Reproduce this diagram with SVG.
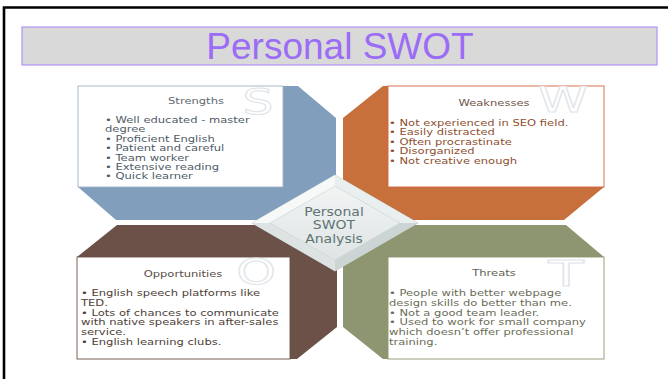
<svg xmlns="http://www.w3.org/2000/svg" width="668" height="379" viewBox="0 0 668 379">
<style>
.t{font-family:"DejaVu Sans","Verdana",sans-serif;font-size:8.5px}
.h{text-anchor:middle}
.wm{font-family:"DejaVu Sans",sans-serif;font-size:36px;fill:#ffffff;stroke:#e0e4e8;stroke-width:1;text-anchor:middle}
.box{fill:#ffffff;stroke-width:0.9}
.dt{font-family:"DejaVu Sans","Verdana",sans-serif;font-size:11.5px;fill:#5e7474;text-anchor:middle}
</style>
<defs>
<clipPath id="cS"><rect x="78" y="86" width="205" height="101"/></clipPath>
<clipPath id="cW"><rect x="388" y="86" width="216" height="101"/></clipPath>
<clipPath id="cO"><rect x="77" y="257" width="213" height="102"/></clipPath>
<clipPath id="cT"><rect x="388" y="257" width="216" height="102"/></clipPath>
<linearGradient id="dg" x1="0" y1="0" x2="0" y2="1">
<stop offset="0" stop-color="#f2f4f4"/>
<stop offset="1" stop-color="#dfe4e4"/>
</linearGradient>
</defs>
<rect width="668" height="379" fill="#ffffff"/>
<path d="M4,385 V7.5 H672" fill="none" stroke="#000" stroke-width="2.6"/>
<g id="title">
<rect x="22" y="27" width="635" height="38" fill="#d9d9d9" stroke="#b193f7" stroke-width="1.2"/>
<text x="340" y="59" font-family="Liberation Sans, Arial, sans-serif" font-size="37" fill="#9b6cf5" text-anchor="middle">Personal SWOT</text>
</g>
<g id="strengths">
<polygon points="78,86 298,86 336,118 336,220 116,220 78,187" fill="#819fbd"/>
<rect class="box" x="78" y="86" width="205" height="101" stroke="#9fb3c7"/>
<g clip-path="url(#cS)"><text class="wm" transform="translate(258,114) scale(1.35,1)">S</text></g>
<g transform="translate(196,0) scale(1.36,1)"><text class="t h" y="104" fill="#5f6870">Strengths</text></g>
<g transform="translate(105,0) scale(1.36,1)" class="t" fill="#4f5b66">
<text y="123">• Well educated - master</text>
<text y="132.4">degree</text>
<text y="141.8">• Proficient English</text>
<text y="151.2">• Patient and careful</text>
<text y="160.6">• Team worker</text>
<text y="170">• Extensive reading</text>
<text y="179.4">• Quick learner</text>
</g>
</g>
<g id="weaknesses">
<polygon points="343,118 383,86 604,86 604,187 564,220 343,220" fill="#c8703c"/>
<rect class="box" x="388" y="86" width="216" height="101" stroke="#d2653f"/>
<g clip-path="url(#cW)"><text class="wm" transform="translate(563,112) scale(1.4,1)">W</text></g>
<g transform="translate(494,0) scale(1.36,1)"><text class="t h" y="106" fill="#6e5548">Weaknesses</text></g>
<g transform="translate(389,0) scale(1.36,1)" class="t" fill="#8e4f2f">
<text y="126">• Not experienced in SEO field.</text>
<text y="135.5">• Easily distracted</text>
<text y="145">• Often procrastinate</text>
<text y="154.5">• Disorganized</text>
<text y="164">• Not creative enough</text>
</g>
</g>
<g id="opportunities">
<polygon points="77,257 117,225 337,225 337,327 297,359 77,359" fill="#6b5147"/>
<rect class="box" x="77" y="257" width="213" height="102" stroke="#6b5147"/>
<g clip-path="url(#cO)"><text class="wm" transform="translate(256,284) scale(1.4,1)">O</text></g>
<g transform="translate(183,0) scale(1.36,1)"><text class="t h" y="277" fill="#5a4c45">Opportunities</text></g>
<g transform="translate(81,0) scale(1.36,1)" class="t" fill="#4d3e37">
<text y="296">• English speech platforms like</text>
<text y="305.8">TED.</text>
<text y="315.6">• Lots of chances to communicate</text>
<text y="325.4">with native speakers in after-sales</text>
<text y="335.2">service.</text>
<text y="345">• English learning clubs.</text>
</g>
</g>
<g id="threats">
<polygon points="343,225 566,225 604,257 604,359 383,359 343,327" fill="#8d9670"/>
<rect class="box" x="388" y="257" width="216" height="102" stroke="#8d9670"/>
<g clip-path="url(#cT)"><text class="wm" transform="translate(566,286) scale(1.6,1)">T</text></g>
<g transform="translate(494,0) scale(1.36,1)"><text class="t h" y="276" fill="#5e5f52">Threats</text></g>
<g transform="translate(389,0) scale(1.36,1)" class="t" fill="#6a6c58">
<text y="296">• People with better webpage</text>
<text y="305.8">design skills do better than me.</text>
<text y="315.6">• Not a good team leader.</text>
<text y="325.4">• Used to work for small company</text>
<text y="335.2">which doesn’t offer professional</text>
<text y="345">training.</text>
</g>
</g>
<g id="center">
<polygon points="252,223 335,175 418,223 335,271" fill="#d6dddd" stroke="#bcc5c5" stroke-width="0.8"/>
<polygon points="252,223 335,175 335,186 270,223" fill="#f7f9f9"/>
<polygon points="335,175 418,223 400,223 335,186" fill="#e9eeee"/>
<polygon points="418,223 335,271 335,260 400,223" fill="#ccd4d4"/>
<polygon points="335,271 252,223 270,223 335,260" fill="#dde3e3"/>
<polygon points="270,223 335,186 400,223 335,260" fill="url(#dg)" stroke="#cbd3d3" stroke-width="0.6"/>
<g transform="translate(334,0) scale(1.22,1)">
<text class="dt" y="216">Personal</text>
<text class="dt" y="229.5">SWOT</text>
<text class="dt" y="243">Analysis</text>
</g>
</g>
</svg>
